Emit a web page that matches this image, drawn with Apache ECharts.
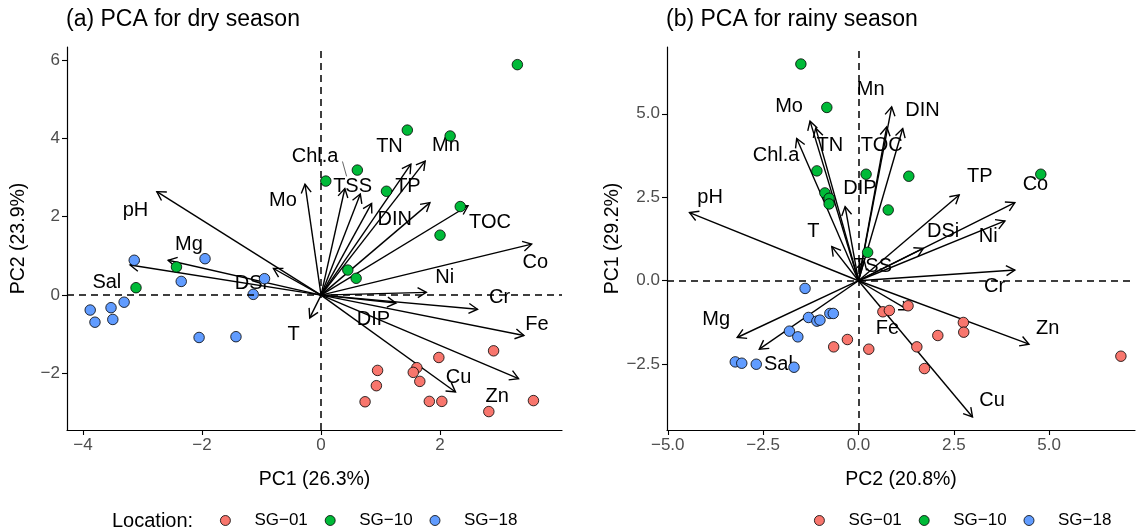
<!DOCTYPE html>
<html><head><meta charset="utf-8">
<script src="https://cdn.jsdelivr.net/npm/echarts@6/dist/echarts.min.js"></script>
<style>html,body{margin:0;padding:0;background:#fff}#c{width:1137px;height:532px}</style>
</head><body><div id="c"></div>
<script>
// ---------- Panel (a): dry season ----------
const dryRedX = [2.90,1.98,0.95,1.61,1.55,0.93,1.66,0.74,1.82,2.03,2.82,3.57];
const dryRedY = [-1.42,-1.59,-1.92,-1.85,-1.97,-2.31,-2.20,-2.72,-2.71,-2.71,-2.97,-2.69];
const dryGreenX = [3.30,1.45,2.17,0.61,0.08,1.10,2.34,2.00,0.45,0.59,-2.43,-3.11];
const dryGreenY = [5.88,4.21,4.06,3.19,2.91,2.65,2.26,1.53,0.64,0.43,0.72,0.19];
const dryBlueX = [-3.14,-1.95,-2.35,-0.95,-1.14,-3.31,-3.53,-3.88,-3.80,-3.50,-2.05,-1.43];
const dryBlueY = [0.89,0.93,0.35,0.42,0.02,-0.18,-0.32,-0.38,-0.69,-0.62,-1.08,-1.06];

const dryVars   = ['pH','Mg','Sal','DSi','Mo','Chl.a','TSS','DIN','TN','Mn','TP','TOC','Co','Ni','Cr','DIP','Fe','Zn','Cu','T'];
const dryArrowX = [-2.76,-2.57,-3.21,-0.80,-0.27,0.40,0.66,0.85,1.51,1.75,1.83,2.47,3.54,1.77,2.63,1.26,3.41,3.32,2.26,-0.19];
const dryArrowY = [2.64,0.89,0.77,0.68,2.83,2.72,2.58,2.34,3.34,3.42,2.36,2.28,1.30,0.07,-0.36,-0.20,-1.03,-2.13,-2.47,-0.58];
const dryLabelX = [-3.12,-2.22,-3.60,-1.18,-0.64,-0.10,0.53,1.24,1.15,2.10,1.46,2.84,3.60,2.08,3.00,0.88,3.63,2.96,2.31,-0.46];
const dryLabelY = [2.15,1.28,0.33,0.29,2.42,3.53,2.76,1.92,3.79,3.83,2.77,1.86,0.83,0.45,-0.07,-0.63,-0.75,-2.58,-2.10,-1.00];
const dryLeader = [[0.36,3.41,0.43,3.03]];

// ---------- Panel (b): rainy season ----------
const rainyRedX = [-0.65,-0.29,0.27,0.64,0.81,1.30,1.53,1.73,2.08,2.75,2.76,6.88];
const rainyRedY = [-1.98,-1.76,-2.05,-0.93,-0.89,-0.75,-1.98,-2.63,-1.64,-1.25,-1.54,-2.26];
const rainyGreenX = [-1.51,-0.83,-1.09,-0.88,-0.77,-0.77,0.20,0.24,0.78,1.32,4.78];
const rainyGreenY = [6.49,5.19,3.29,2.63,2.47,2.30,3.19,0.85,2.12,3.13,3.19];
const rainyBlueX = [-1.40,-1.31,-1.09,-1.01,-0.75,-0.66,-1.81,-1.59,-3.23,-3.06,-2.68,-1.69];
const rainyBlueY = [-0.23,-1.10,-1.21,-1.18,-0.98,-0.98,-1.51,-1.68,-2.43,-2.47,-2.50,-2.59];

const rainyVars   = ['pH','Mo','TN','Chl.a','T','DIP','Mn','DIN','TOC','TP','Co','Ni','DSi','Cr','TSS','Mg','Sal','Fe','Zn','Cu'];
const rainyArrowX = [-4.43,-1.27,-1.12,-1.62,-0.70,-0.35,0.74,0.87,1.16,2.64,4.10,3.84,1.70,4.10,0.15,-3.18,-2.60,1.30,4.47,2.99];
const rainyArrowY = [2.04,4.78,4.57,4.26,1.02,2.22,4.61,5.21,4.56,2.57,2.34,1.79,0.97,0.32,0.60,-1.70,-2.05,-0.87,-1.90,-4.08];
const rainyLabelX = [-3.89,-1.82,-0.75,-2.16,-1.18,0.04,0.32,1.68,0.61,3.18,4.64,3.40,2.22,3.57,0.37,-3.73,-2.10,0.76,4.96,3.50];
const rainyLabelY = [2.50,5.23,4.06,3.74,1.47,2.77,5.73,5.09,4.06,3.11,2.87,1.32,1.47,-0.18,0.43,-1.16,-2.50,-1.44,-1.44,-3.59];

// ---------- Axes ticks ----------
const dryTicksX = [-4,-2,0,2];
const dryTicksY = [-2,0,2,4,6];
const rainyTicksX = [-5,-2.5,0,2.5,5];
const rainyTicksY = [-2.5,0,2.5,5];

const groups = ['SG\u221201','SG\u221210','SG\u221218'];
const colors = ['#F8766D','#00BA38','#619CFF'];
const FONT = '"Liberation Sans", Arial, Helvetica, sans-serif';

const zip = (xs, ys) => xs.map((x, i) => [x, ys[i]]);
const minus = s => String(s).replace('-', '\u2212');

function axisCommon(ticks, fmt) {
  return {
    type: 'value',
    splitLine: {show: false},
    axisLine: {onZero: false, lineStyle: {color: '#000', width: 1.2}},
    axisTick: {show: true, length: 5, customValues: ticks, lineStyle: {color: '#000', width: 1.1}},
    axisLabel: {customValues: ticks, color: '#4D4D4D', fontSize: 17, fontFamily: FONT, margin: 7, formatter: fmt},
    nameLocation: 'middle',
    nameTextStyle: {color: '#000', fontSize: 19.5, fontFamily: FONT}
  };
}
const fmtInt = v => minus(v.toFixed(0));
const fmtOne = v => minus(v.toFixed(1));

function arrowSeries(gi, xs, ys) {
  return {
    type: 'custom', xAxisIndex: gi, yAxisIndex: gi, z: 2, silent: true,
    data: zip(xs, ys),
    renderItem: function (params, api) {
      const p0 = api.coord([0, 0]);
      const p1 = api.coord([api.value(0), api.value(1)]);
      const ang = Math.atan2(p1[1] - p0[1], p1[0] - p0[0]);
      const L = 10, a = Math.PI / 6;
      const h1 = [p1[0] - L * Math.cos(ang - a), p1[1] - L * Math.sin(ang - a)];
      const h2 = [p1[0] - L * Math.cos(ang + a), p1[1] - L * Math.sin(ang + a)];
      return {type: 'group', children: [
        {type: 'line', shape: {x1: p0[0], y1: p0[1], x2: p1[0], y2: p1[1]}, style: {stroke: '#000', lineWidth: 1.4}},
        {type: 'polyline', shape: {points: [h1, p1, h2]}, style: {stroke: '#000', lineWidth: 1.4, fill: null}}
      ]};
    }
  };
}
function labelSeries(gi, names, xs, ys) {
  return {
    type: 'custom', xAxisIndex: gi, yAxisIndex: gi, z: 3, silent: true,
    data: names.map((n, i) => ({name: n, value: [xs[i], ys[i]]})),
    renderItem: function (params, api) {
      const p = api.coord([api.value(0), api.value(1)]);
      return {type: 'text', x: p[0], y: p[1], style: {
        text: names[params.dataIndex], fill: '#000', fontSize: 20, fontFamily: FONT,
        align: 'center', verticalAlign: 'middle'}};
    }
  };
}
function leaderSeries(gi, segs) {
  return {
    type: 'custom', xAxisIndex: gi, yAxisIndex: gi, z: 3, silent: true,
    data: segs,
    renderItem: function (params, api) {
      const a = api.coord([api.value(0), api.value(1)]);
      const b = api.coord([api.value(2), api.value(3)]);
      return {type: 'line', shape: {x1: a[0], y1: a[1], x2: b[0], y2: b[1]}, style: {stroke: '#222', lineWidth: 0.7}};
    }
  };
}
function pointSeries(gi, k, xs, ys) {
  return {
    type: 'scatter', name: groups[k], xAxisIndex: gi, yAxisIndex: gi, z: 4,
    symbol: 'circle', symbolSize: 10.5,
    itemStyle: {color: colors[k], borderColor: '#000', borderWidth: 0.8, opacity: 1},
    data: zip(xs, ys)
  };
}
function zeroLines(gi) {
  return {
    type: 'scatter', xAxisIndex: gi, yAxisIndex: gi, z: 1, data: [], silent: true,
    markLine: {
      silent: true, symbol: ['none', 'none'], label: {show: false}, animation: false,
      lineStyle: {color: '#000', type: [7, 5], width: 1.5},
      data: [{xAxis: 0}, {yAxis: 0}]
    }
  };
}

const chart = echarts.init(document.getElementById('c'), null, {renderer: 'canvas'});
const legendCommon = {
  orient: 'horizontal', top: 512, padding: 0, itemWidth: 10, itemHeight: 10, itemGap: 17,
  icon: 'circle', data: groups, selectedMode: false,
  itemStyle: {borderColor: '#000', borderWidth: 0.8},
  textStyle: {color: '#000', fontSize: 17, fontFamily: FONT, padding: [0, 0, 0, 19]}
};
chart.setOption({
  animation: false,
  backgroundColor: '#fff',
  title: [
    {text: '(a) PCA for dry season', left: 66, top: 8, padding: 0, textStyle: {fontSize: 23, fontWeight: 'normal', color: '#000', fontFamily: FONT}},
    {text: '(b) PCA for rainy season', left: 666, top: 8, padding: 0, textStyle: {fontSize: 23, fontWeight: 'normal', color: '#000', fontFamily: FONT}}
  ],
  legend: [
    Object.assign({}, legendCommon, {left: 220}),
    Object.assign({}, legendCommon, {left: 814})
  ],
  graphic: [
    {type: 'text', left: 112, top: 511, style: {text: 'Location:', fontSize: 20, fill: '#000', fontFamily: FONT}}
  ],
  grid: [
    {left: 67, top: 47, width: 495, height: 383, containLabel: false, outerBoundsMode: 'none'},
    {left: 667, top: 47, width: 468, height: 383, containLabel: false, outerBoundsMode: 'none'}
  ],
  xAxis: [
    Object.assign(axisCommon(dryTicksX, fmtInt), {gridIndex: 0, min: -4.27, max: 4.05, name: 'PC1 (26.3%)', nameGap: 40}),
    Object.assign(axisCommon(rainyTicksX, fmtOne), {gridIndex: 1, min: -5.02, max: 7.25, name: 'PC2 (20.8%)', nameGap: 40})
  ],
  yAxis: [
    Object.assign(axisCommon(dryTicksY, fmtInt), {gridIndex: 0, min: -3.44, max: 6.33, name: 'PC2 (23.9%)', nameGap: 38, nameRotate: 90}),
    Object.assign(axisCommon(rainyTicksY, fmtOne), {gridIndex: 1, min: -4.47, max: 7.0, name: 'PC1 (29.2%)', nameGap: 42, nameRotate: 90})
  ],
  series: [
    zeroLines(0), zeroLines(1),
    arrowSeries(0, dryArrowX, dryArrowY),
    arrowSeries(1, rainyArrowX, rainyArrowY),
    labelSeries(0, dryVars, dryLabelX, dryLabelY),
    labelSeries(1, rainyVars, rainyLabelX, rainyLabelY),
    leaderSeries(0, dryLeader),
    pointSeries(0, 0, dryRedX, dryRedY),
    pointSeries(0, 1, dryGreenX, dryGreenY),
    pointSeries(0, 2, dryBlueX, dryBlueY),
    pointSeries(1, 0, rainyRedX, rainyRedY),
    pointSeries(1, 1, rainyGreenX, rainyGreenY),
    pointSeries(1, 2, rainyBlueX, rainyBlueY)
  ]
});
</script></body></html>
